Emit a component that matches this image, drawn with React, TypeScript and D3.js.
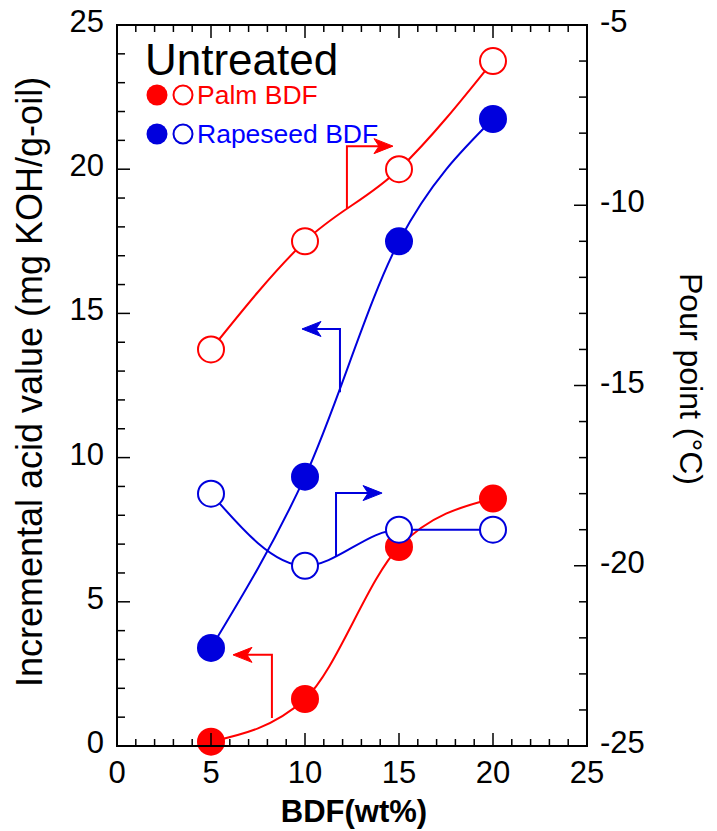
import React from "react";
import * as d3 from "d3";

// BDF content (wt%)
const bdf = [5, 10, 15, 20];
// incremental acid value, left axis (filled markers)
const palmAcid = [0.15, 1.63, 6.9, 8.58];
const rapeAcid = [3.4, 9.34, 17.5, 21.74];
// pour point, right axis (open markers)
const palmPour = [-14, -11, -9, -6];
const rapePour = [-18, -20, -19, -19];

const xTicks = [0, 5, 10, 15, 20, 25];
const leftTicks = [0, 5, 10, 15, 20, 25];
const rightTicks = [-25, -20, -15, -10, -5];

// arrows telling which axis a curve belongs to (x / left-axis units)
const arrowX = [12.23, 11.86, 11.65, 8.24];
const arrowFrom = [18.65, 12.27, 6.55, 0.97];
const arrowTo = [20.8, 14.46, 8.77, 3.16];
const arrowTip = [14.68, 9.84, 14.1, 6.17];
const arrowColor = ["red", "blue", "blue", "red"];

const RED = "#ff0000";
const BLUE = "#0000dd";
const FONT = "'Liberation Sans', Arial, Helvetica, sans-serif";

const W = 717;
const H = 831;

const App = () => {
  const x = d3.scaleLinear().domain([0, 25]).range([117, 587]);
  const yL = d3.scaleLinear().domain([0, 25]).range([746, 25]);
  const yR = d3.scaleLinear().domain([-25, -5]).range([746, 25]);

  const lineL = d3
    .line<number>()
    .x((_, i) => x(bdf[i]))
    .y((d) => yL(d))
    .curve(d3.curveMonotoneX);
  const lineR = d3
    .line<number>()
    .x((_, i) => x(bdf[i]))
    .y((d) => yR(d))
    .curve(d3.curveMonotoneX);

  const [x0, x1] = x.range();
  const [yb, yt] = yL.range();

  const minorX = d3.range(0, 26, 1);
  const minorL = d3.range(0, 26, 1);
  const minorR = d3.range(-25, -4, 1);

  const col = (c) => (c === "red" ? RED : BLUE);

  return (
    <div style={{ position: "absolute", left: 0, top: 0, width: W, height: H, background: "white" }}>
      <svg width={W} height={H} style={{ fontFamily: FONT }}>
        {/* curves */}
        <path d={lineL(palmAcid)} fill="none" stroke={RED} strokeWidth={2} />
        <path d={lineL(rapeAcid)} fill="none" stroke={BLUE} strokeWidth={2} />
        <path d={lineR(palmPour)} fill="none" stroke={RED} strokeWidth={2} />
        <path d={lineR(rapePour)} fill="none" stroke={BLUE} strokeWidth={2} />

        {/* axis arrows */}
        {arrowX.map((ax, i) => {
          const c = col(arrowColor[i]);
          const px = x(ax);
          const pyA = yL(arrowFrom[i]);
          const pyB = yL(arrowTo[i]);
          const tx = x(arrowTip[i]);
          const dir = tx > px ? 1 : -1;
          return (
            <g key={i}>
              <path
                d={`M${px},${pyA}V${pyB}H${tx - dir * 8}`}
                fill="none"
                stroke={c}
                strokeWidth={2}
              />
              <path
                d={`M${tx},${pyB}L${tx - dir * 19},${pyB - 7.5}L${tx - dir * 14},${pyB}L${tx - dir * 19},${pyB + 7.5}Z`}
                fill={c}
                stroke={c}
                strokeWidth={1}
              />
            </g>
          );
        })}

        {/* markers */}
        {palmAcid.map((v, i) => (
          <circle key={"pa" + i} cx={x(bdf[i])} cy={yL(v)} r={14} fill={RED} />
        ))}
        {rapeAcid.map((v, i) => (
          <circle key={"ra" + i} cx={x(bdf[i])} cy={yL(v)} r={14} fill={BLUE} />
        ))}
        {palmPour.map((v, i) => (
          <circle key={"pp" + i} cx={x(bdf[i])} cy={yR(v)} r={13} fill="white" stroke={RED} strokeWidth={2} />
        ))}
        {rapePour.map((v, i) => (
          <circle key={"rp" + i} cx={x(bdf[i])} cy={yR(v)} r={13} fill="white" stroke={BLUE} strokeWidth={2} />
        ))}

        {/* frame */}
        <rect x={x0} y={yt} width={x1 - x0} height={yb - yt} fill="none" stroke="black" strokeWidth={2} />

        {/* x ticks, bottom and top */}
        {minorX.map((t) => {
          const len = t % 5 === 0 ? 13 : 7;
          return (
            <g key={"xt" + t}>
              <line x1={x(t)} x2={x(t)} y1={yb} y2={yb - len} stroke="black" strokeWidth={1.5} />
              <line x1={x(t)} x2={x(t)} y1={yt} y2={yt + len} stroke="black" strokeWidth={1.5} />
            </g>
          );
        })}
        {minorL.map((t) => (
          <line
            key={"lt" + t}
            x1={x0}
            x2={x0 + (t % 5 === 0 ? 13 : 8)}
            y1={yL(t)}
            y2={yL(t)}
            stroke="black"
            strokeWidth={1.5}
          />
        ))}
        {minorR.map((t) => (
          <line
            key={"rt" + t}
            x1={x1}
            x2={x1 - (t % 5 === 0 ? 13 : 8)}
            y1={yR(t)}
            y2={yR(t)}
            stroke="black"
            strokeWidth={1.5}
          />
        ))}

        {/* tick labels */}
        {xTicks.map((t) => (
          <text key={"xl" + t} x={x(t)} y={yb + 37} textAnchor="middle" fontSize={31}>
            {t}
          </text>
        ))}
        {leftTicks.map((t) => (
          <text key={"ll" + t} x={104} y={yL(t) + 7} textAnchor="end" fontSize={31}>
            {t}
          </text>
        ))}
        {rightTicks.map((t) => (
          <text key={"rl" + t} x={600} y={yR(t) + 7} textAnchor="start" fontSize={31}>
            {t}
          </text>
        ))}

        {/* axis titles */}
        <text x={354} y={822} textAnchor="middle" fontSize={31} fontWeight="bold">
          BDF(wt%)
        </text>
        <text
          transform={`translate(42,382) rotate(-90)`}
          textAnchor="middle"
          fontSize={36}
        >
          Incremental acid value (mg KOH/g-oil)
        </text>
        <text
          transform={`translate(680,379) rotate(90)`}
          textAnchor="middle"
          fontSize={32}
        >
          Pour point (°C)
        </text>

        {/* legend */}
        <text x={145} y={75} fontSize={44}>
          Untreated
        </text>
        <circle cx={157} cy={95} r={10.5} fill={RED} />
        <circle cx={183} cy={95} r={9.5} fill="white" stroke={RED} strokeWidth={2} />
        <text x={197} y={104} fontSize={26.5} fill={RED}>
          Palm BDF
        </text>
        <circle cx={157} cy={134} r={10.5} fill={BLUE} />
        <circle cx={183} cy={134} r={9.5} fill="white" stroke={BLUE} strokeWidth={2} />
        <text x={197} y={143} fontSize={26.5} fill="#0000ff">
          Rapeseed BDF
        </text>
      </svg>
    </div>
  );
};

export default App;
